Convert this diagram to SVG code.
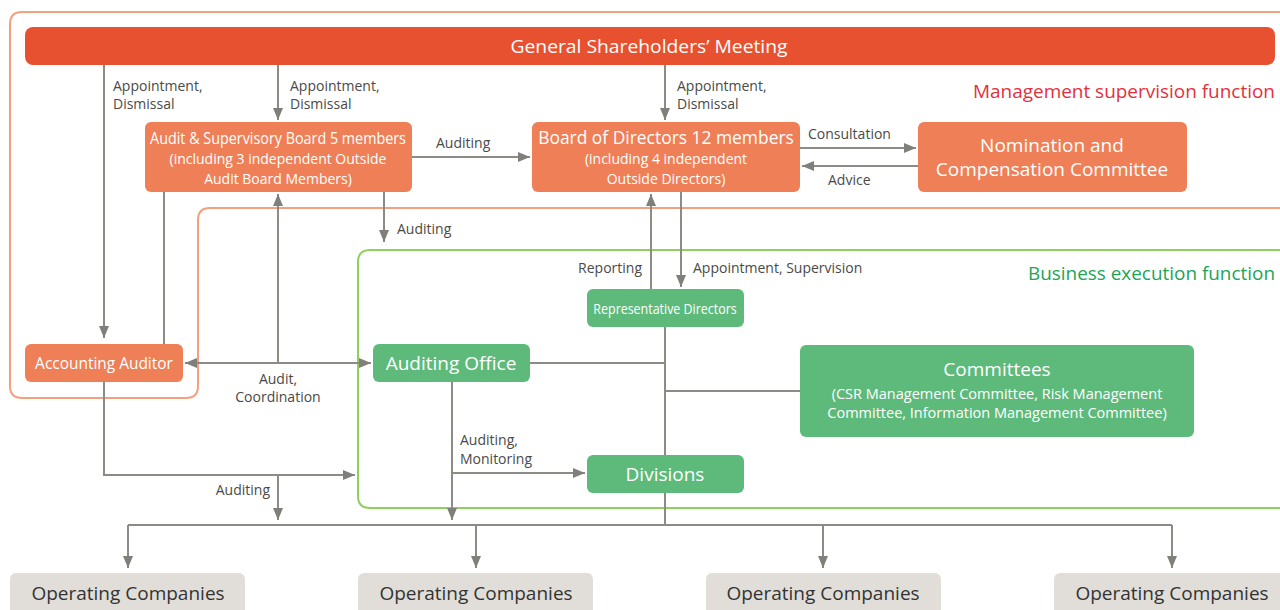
<svg xmlns="http://www.w3.org/2000/svg" width="1280" height="610" viewBox="0 0 1280 610">
<defs>
<marker id="ah" viewBox="0 0 12 10" refX="12" refY="5" markerWidth="12" markerHeight="10" markerUnits="userSpaceOnUse" orient="auto-start-reverse">
<path d="M0,0 L12,5 L0,10 z" fill="#807f7a"/>
</marker>
<style>
.or{fill:#ee7f57}
.gs{fill:#e8512f}
.gr{fill:#5dba7b}
.op{fill:#e1ded9}
.w{fill:#ffffff;font-family:"Open Sans","Noto Sans",sans-serif;text-anchor:middle}
.lb{fill:#4a4a48;font-family:"Open Sans","Noto Sans",sans-serif;font-size:14px}
.dk{fill:#333333;font-family:"Open Sans","Noto Sans",sans-serif;font-size:19px;text-anchor:middle}
.ln{fill:none;stroke:#8c8b86;stroke-width:2}
.ar{marker-end:url(#ah)}
.ar2{marker-start:url(#ah);marker-end:url(#ah)}
</style>
</defs>
<rect width="1280" height="610" fill="#ffffff"/>
<g id="frames">
<path d="M1282,12 H22 Q10,12 10,24 V386 Q10,398 22,398 H186 Q198,398 198,386 V220 Q198,208 210,208 H1282" fill="none" stroke="#f4a07f" stroke-width="2"/>
<path d="M1282,250 H370 Q358,250 358,262 V496 Q358,508 370,508 H1282" fill="none" stroke="#8fcf5c" stroke-width="2"/>
<text x="1275" y="98" font-family="Open Sans,Noto Sans,sans-serif" font-size="19" fill="#e5303c" text-anchor="end" textLength="302" lengthAdjust="spacingAndGlyphs">Management supervision function</text>
<text x="1275" y="280" font-family="Open Sans,Noto Sans,sans-serif" font-size="19" fill="#22a458" text-anchor="end" textLength="247" lengthAdjust="spacingAndGlyphs">Business execution function</text>
</g>
<g id="connectors">
<path class="ln ar" d="M104,65 V338"/>
<path class="ln ar" d="M278,65 V120"/>
<path class="ln ar" d="M665,65 V120"/>
<path class="ln ar" d="M412,157 H530"/>
<path class="ln ar" d="M800,148 H916"/>
<path class="ln ar" d="M918,166 H802"/>
<path class="ln" d="M164,192 V344"/>
<path class="ln ar" d="M384,192 V242"/>
<path class="ln ar" d="M278,363 V194"/>
<path class="ln ar2" d="M185,363 H371"/>
<path class="ln ar" d="M651,289 V194"/>
<path class="ln ar" d="M681,192 V287"/>
<path class="ln" d="M665,327 V525"/>
<path class="ln" d="M530,363 H665"/>
<path class="ln" d="M665,391 H800"/>
<path class="ln ar" d="M452,382 V520"/>
<path class="ln ar" d="M452,473 H585"/>
<path class="ln ar" d="M104,382 V475 H355"/>
<path class="ln ar" d="M278,475 V520"/>
<path class="ln" d="M128,525 H1172"/>
<path class="ln ar" d="M128,525 V568"/>
<path class="ln ar" d="M476,525 V568"/>
<path class="ln ar" d="M823,525 V568"/>
<path class="ln ar" d="M1172,525 V568"/>
<text class="lb" x="113" y="91">Appointment,</text>
<text class="lb" x="113" y="109">Dismissal</text>
<text class="lb" x="290" y="91">Appointment,</text>
<text class="lb" x="290" y="109">Dismissal</text>
<text class="lb" x="677" y="91">Appointment,</text>
<text class="lb" x="677" y="109">Dismissal</text>
<text class="lb" x="436" y="148">Auditing</text>
<text class="lb" x="808" y="139">Consultation</text>
<text class="lb" x="828" y="185">Advice</text>
<text class="lb" x="397" y="234">Auditing</text>
<text class="lb" x="642" y="273" text-anchor="end">Reporting</text>
<text class="lb" x="693" y="273">Appointment, Supervision</text>
<text class="lb" x="278" y="384" text-anchor="middle">Audit,</text>
<text class="lb" x="278" y="402" text-anchor="middle">Coordination</text>
<text class="lb" x="460" y="445">Auditing,</text>
<text class="lb" x="460" y="464">Monitoring</text>
<text class="lb" x="270" y="495" text-anchor="end">Auditing</text>
</g>
<g id="gsm">
<rect class="gs" x="25" y="27" width="1250" height="38" rx="8"/>
<text class="w" x="649" y="53" font-size="19" textLength="277" lengthAdjust="spacingAndGlyphs">General Shareholders’ Meeting</text>
</g>
<g id="audit-board">
<rect class="or" x="145" y="122" width="267" height="70" rx="6"/>
<text class="w" transform="translate(278,144) scale(0.85,1)" x="0" y="0" font-size="17" textLength="301" lengthAdjust="spacingAndGlyphs">Audit &amp; Supervisory Board 5 members</text>
<text class="w" x="278" y="164" font-size="14">(including 3 independent Outside</text>
<text class="w" x="278" y="184" font-size="14">Audit Board Members)</text>
</g>
<g id="board-directors">
<rect class="or" x="532" y="122" width="268" height="70" rx="6"/>
<text class="w" transform="translate(666,144) scale(0.9,1)" x="0" y="0" font-size="18" textLength="284" lengthAdjust="spacingAndGlyphs">Board of Directors 12 members</text>
<text class="w" x="666" y="164" font-size="14">(including 4 independent</text>
<text class="w" x="666" y="184" font-size="14">Outside Directors)</text>
</g>
<g id="nomination">
<rect class="or" x="918" y="122" width="269" height="70" rx="6"/>
<text class="w" x="1052" y="152" font-size="19">Nomination and</text>
<text class="w" x="1052" y="176" font-size="19">Compensation Committee</text>
</g>
<g id="accounting-auditor">
<rect class="or" x="25" y="344" width="158" height="38" rx="6"/>
<text class="w" transform="translate(104,369) scale(0.82,1)" x="0" y="0" font-size="17" textLength="168" lengthAdjust="spacingAndGlyphs">Accounting Auditor</text>
</g>
<g id="auditing-office">
<rect class="gr" x="373" y="344" width="157" height="38" rx="6"/>
<text class="w" x="451" y="370" font-size="19">Auditing Office</text>
</g>
<g id="rep-directors">
<rect class="gr" x="587" y="289" width="157" height="38" rx="6"/>
<text class="w" transform="translate(665,314) scale(0.72,1)" x="0" y="0" font-size="15" textLength="199" lengthAdjust="spacingAndGlyphs">Representative Directors</text>
</g>
<g id="committees">
<rect class="gr" x="800" y="345" width="394" height="92" rx="6"/>
<text class="w" x="997" y="376" font-size="19">Committees</text>
<text class="w" x="997" y="399" font-size="14.5">(CSR Management Committee, Risk Management</text>
<text class="w" x="997" y="418" font-size="14.5">Committee, Information Management Committee)</text>
</g>
<g id="divisions">
<rect class="gr" x="587" y="455" width="157" height="38" rx="6"/>
<text class="w" x="665" y="481" font-size="19">Divisions</text>
</g>
<g id="op1"><rect class="op" x="10" y="573" width="235" height="45" rx="6"/><text class="dk" x="128" y="600">Operating Companies</text></g>
<g id="op2"><rect class="op" x="358" y="573" width="235" height="45" rx="6"/><text class="dk" x="476" y="600">Operating Companies</text></g>
<g id="op3"><rect class="op" x="706" y="573" width="235" height="45" rx="6"/><text class="dk" x="823" y="600">Operating Companies</text></g>
<g id="op4"><rect class="op" x="1054" y="573" width="235" height="45" rx="6"/><text class="dk" x="1172" y="600">Operating Companies</text></g>
</svg>
